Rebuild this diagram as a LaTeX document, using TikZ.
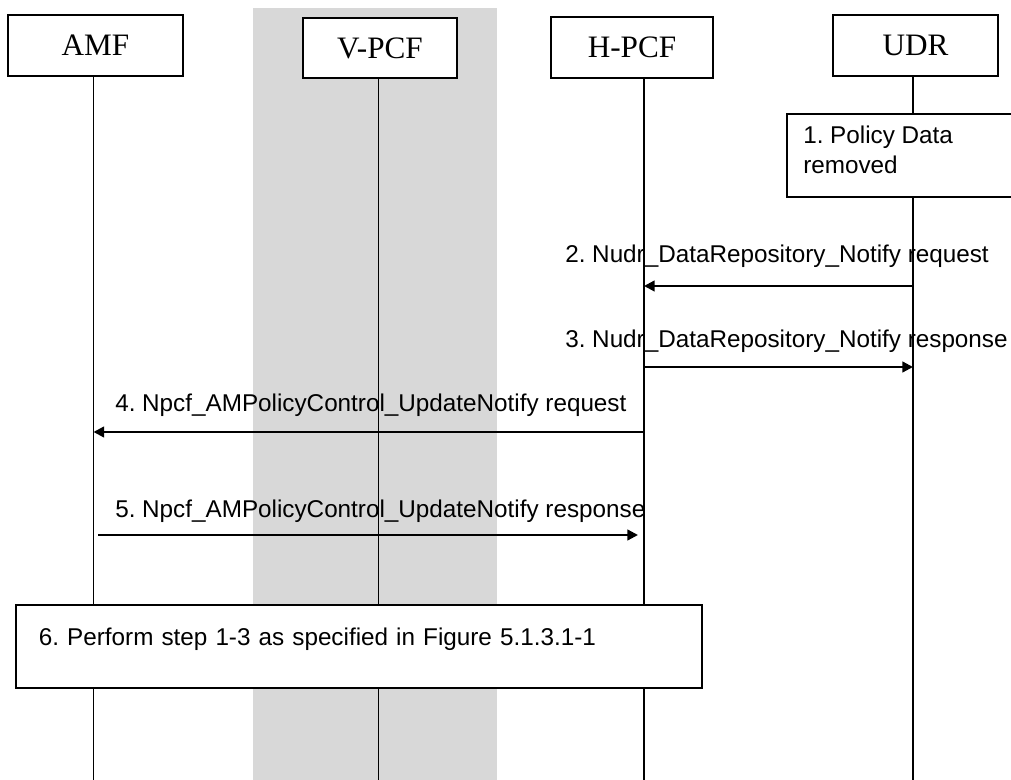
\documentclass[tikz,border=0pt]{standalone}
\usepackage{fontspec}
\newfontfamily\labfont{Liberation Sans}
\newfontfamily\hdrfont{Liberation Serif}
\usetikzlibrary{arrows.meta}
\definecolor{band}{RGB}{216,216,216}
\frenchspacing
\tikzset{
  hdrbox/.style={draw, line width=1.3pt, fill=white, inner sep=0pt,
    font=\hdrfont\fontsize{23.4}{28}\selectfont},
  lifeline/.style={line width=1.1pt},
  msg/.style={line width=1.7pt, -{Triangle[length=8pt,width=8pt]}},
  msglabel/.style={anchor=base west, inner sep=0pt,
    font=\labfont\fontsize{18.2}{22.5}\selectfont},
  stepbox/.style={draw, line width=1.3pt, fill=white,
    font=\labfont\fontsize{18.2}{22.5}\selectfont}
}
\begin{document}
\begin{tikzpicture}[x=0.75pt,y=-0.75pt]
\useasboundingbox (0,0) rectangle (1011,780);
% visited network band
\fill[band] (253,8) rectangle (497,780);
% entity boxes
\node[hdrbox, minimum width=131.25pt, minimum height=45.75pt] (amf) at (95.5,45.5) {AMF};
\node[hdrbox, minimum width=115.5pt, minimum height=45pt] (vpcf) at (380,48) {V-PCF};
\node[hdrbox, minimum width=121.5pt, minimum height=45.75pt] (hpcf) at (632,47.5) {H-PCF};
\node[hdrbox, minimum width=123.75pt, minimum height=45.75pt] (udr) at (915.5,45.5) {UDR};
% lifeline anchors
\coordinate (amfT) at (93.5,76);   \coordinate (amfB) at (93.5,780);
\coordinate (vpcfT) at (378.5,78); \coordinate (vpcfB) at (378.5,780);
\coordinate (hpcfT) at (644,78);   \coordinate (hpcfB) at (644,780);
\coordinate (udrT) at (913,76);    \coordinate (udrB) at (913,780);
\draw[lifeline] (amfT) -- (amfB);
\draw[lifeline] (vpcfT) -- (vpcfB);
\draw[lifeline] (hpcfT) -- (hpcfB);
\draw[lifeline] (udrT) -- (udrB);
% step 1
\node[stepbox, anchor=north west, minimum width=172.5pt, minimum height=62.25pt] (s1) at (786,113) {};
\node[anchor=north west, inner sep=0pt, align=left,
  font=\labfont\fontsize{18.2}{22.5}\selectfont] (s1t) at (803,125.5) {1. Policy Data\\removed};
% step 2
\node[msglabel] (l2) at (565,263) {2. Nudr\_DataRepository\_Notify request};
\draw[msg] (udrT |- 0,286) -- (hpcfT |- 0,286);
% step 3
\node[msglabel] (l3) at (565,348) {3. Nudr\_DataRepository\_Notify response};
\draw[msg] (hpcfT |- 0,367) -- (udrT |- 0,367);
% step 4
\node[msglabel] (l4) at (115,412) {4. Npcf\_AMPolicyControl\_UpdateNotify request};
\draw[msg] (hpcfT |- 0,432) -- (amfT |- 0,432);
% step 5
\node[msglabel] (l5) at (115,518) {5. Npcf\_AMPolicyControl\_UpdateNotify response};
\draw[msg, shorten <=3.5pt, shorten >=4.5pt] (amfT |- 0,535) -- (hpcfT |- 0,535);
% step 6
\node[stepbox, anchor=north west, inner xsep=17.25pt, inner ysep=0pt,
  text width=480pt, align=left, text height=30.75pt, text depth=31.5pt] (s6) at (15,604)
  {6. Perform step 1-3 as specified in Figure 5.1.3.1-1};
\end{tikzpicture}
\end{document}
